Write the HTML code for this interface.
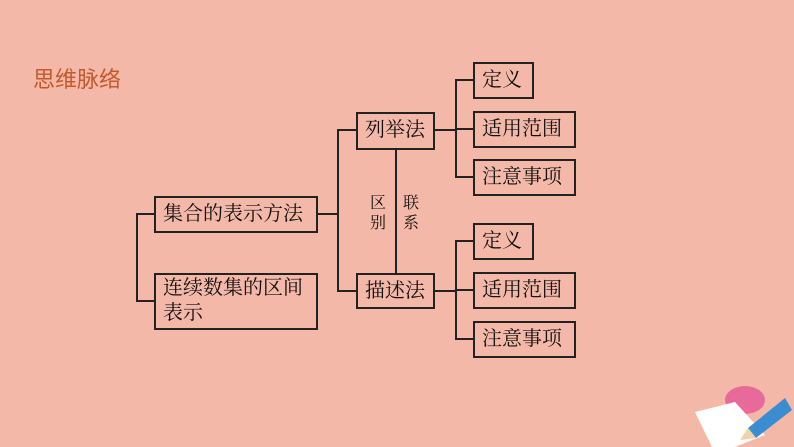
<!DOCTYPE html>
<html><head><meta charset="utf-8"><style>
body{margin:0;width:794px;height:447px;background:#f4b8a8;overflow:hidden;position:relative;font-family:"Liberation Sans","Noto Sans CJK SC",sans-serif}
.b{position:absolute;border:2px solid #222;box-sizing:border-box;font-size:20px;color:#111;padding-left:7px;line-height:32px;font-family:"Liberation Serif","Noto Serif CJK SC",serif}
.l{position:absolute;background:#222}
.t{position:absolute;font-size:16px;color:#111;line-height:20px;font-family:"Liberation Serif","Noto Serif CJK SC",serif}
</style></head><body>
<div style="position:absolute;left:33px;top:62px;font-size:22px;color:#c45a2a;letter-spacing:0px">思维脉络</div>

<div class="b" style="left:154px;top:196px;width:164px;height:37px">集合的表示方法</div>
<div class="b" style="left:154px;top:273px;width:164px;height:57px;line-height:25px;padding-top:1px">连续数集的区间<br>表示</div>
<div class="l" style="left:136px;top:213px;width:2px;height:89px"></div>
<div class="l" style="left:136px;top:213px;width:18px;height:2px"></div>
<div class="l" style="left:136px;top:300px;width:18px;height:2px"></div>

<div class="l" style="left:317px;top:213px;width:22px;height:2px"></div>
<div class="l" style="left:337px;top:129px;width:2px;height:163px"></div>
<div class="l" style="left:337px;top:129px;width:19px;height:2px"></div>
<div class="l" style="left:337px;top:290px;width:19px;height:2px"></div>

<div class="b" style="left:356px;top:112px;width:79px;height:38px">列举法</div>
<div class="b" style="left:356px;top:273px;width:79px;height:36px">描述法</div>
<div class="l" style="left:395px;top:149px;width:2px;height:124px"></div>
<div class="t" style="left:370px;top:194px">区<br>别</div>
<div class="t" style="left:403px;top:194px">联<br>系</div>

<div class="l" style="left:434px;top:129px;width:22px;height:2px"></div>
<div class="l" style="left:455px;top:79px;width:2px;height:99px"></div>
<div class="l" style="left:455px;top:79px;width:18px;height:2px"></div>
<div class="l" style="left:455px;top:128px;width:18px;height:2px"></div>
<div class="l" style="left:455px;top:176px;width:18px;height:2px"></div>
<div class="b" style="left:473px;top:62px;width:61px;height:37px">定义</div>
<div class="b" style="left:473px;top:111px;width:103px;height:37px">适用范围</div>
<div class="b" style="left:473px;top:159px;width:103px;height:37px">注意事项</div>

<div class="l" style="left:434px;top:290px;width:22px;height:2px"></div>
<div class="l" style="left:455px;top:240px;width:2px;height:100px"></div>
<div class="l" style="left:455px;top:240px;width:18px;height:2px"></div>
<div class="l" style="left:455px;top:289px;width:18px;height:2px"></div>
<div class="l" style="left:455px;top:338px;width:18px;height:2px"></div>
<div class="b" style="left:473px;top:223px;width:61px;height:37px">定义</div>
<div class="b" style="left:473px;top:272px;width:103px;height:37px">适用范围</div>
<div class="b" style="left:473px;top:321px;width:103px;height:37px">注意事项</div>

<svg style="position:absolute;left:640px;top:360px" width="154" height="87">
<ellipse cx="105" cy="40" rx="20" ry="14" fill="#e86a9a"/>
<polygon points="55,52 95,42 125,75 95,87 72,87" fill="#fff"/>
<polygon points="108,68 145,38 152,50 116,78" fill="#3a8ed0"/>
<polygon points="108,68 116,78 100,80" fill="#f1d2a8"/>
</svg>
</body></html>
